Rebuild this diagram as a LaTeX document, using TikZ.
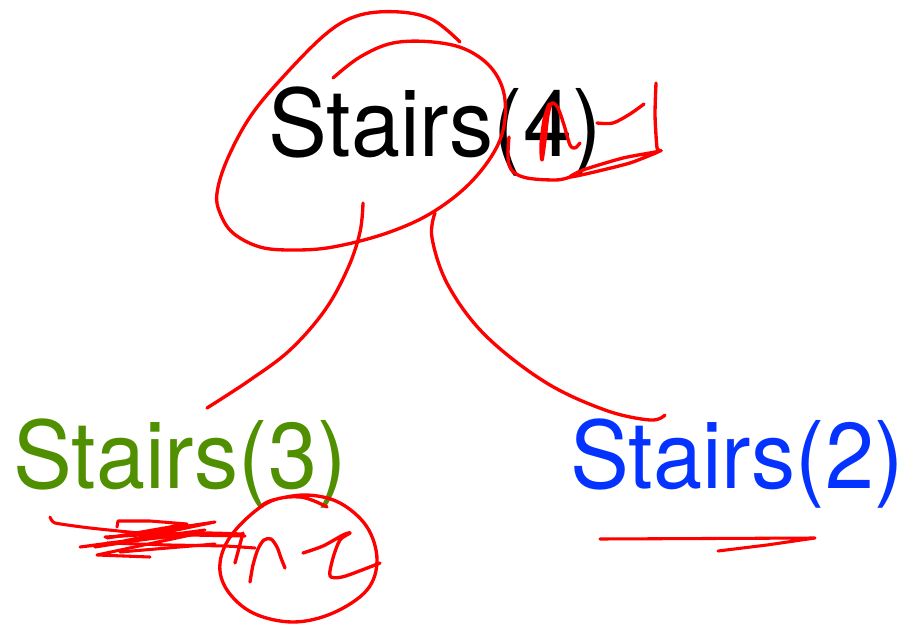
\documentclass[tikz,border=0pt]{standalone}
\usepackage{fontspec}
\setmainfont{TeX Gyre Heros}
\definecolor{inkred}{HTML}{FF0000}
\definecolor{leafgreen}{HTML}{4F8F00}
\definecolor{brightblue}{HTML}{0433FF}
\tikzset{
  callname/.style={inner sep=0pt, anchor=base west,
    font=\fontsize{70}{80}\selectfont},
  pen/.style={draw=inkred, line width=2.5pt, line cap=round, line join=round},
  thinpen/.style={pen, line width=2.3pt},
}
\newcommand{\narrow}[1]{\scalebox{0.945}[1]{#1}}
\begin{document}
\begin{tikzpicture}[x=0.75pt, y=-0.75pt]
\useasboundingbox (0,0) rectangle (912,634);

% the three calls
\node[callname, text=black]      (top)   at (268,157) {\narrow{Stairs(4)}};
\node[callname, text=leafgreen]  (left)  at (13,488)  {\narrow{Stairs(3)}};
\node[callname, text=brightblue] (right) at (570,488) {\narrow{Stairs(2)}};

% loop around the top call
\draw[pen] plot[smooth, tension=0.6] coordinates {
  (460,42) (433,20) (400,12) (360,15) (327,33) (283,77) (250,117) (227,160)
  (217,193) (220,213) (233,233) (260,247) (293,250) (333,247) (387,233)
  (433,212) (473,180) (500,140) (505,100) (493,70) (467,50) (433,42)
  (393,43) (360,57) (333,78)};

% branches down to the two sub-calls
\coordinate (bl0) at (363,203);
\coordinate (bl1) at (207,408);
\draw[pen] plot[smooth, tension=0.6] coordinates {
  (bl0) (360,232) (348,268) (325,310) (290,350) (250,380) (bl1)};
\coordinate (br0) at (435,213);
\coordinate (br1) at (665,415);
\draw[pen] plot[smooth, tension=0.6] coordinates {
  (br0) (432,238) (448,285) (485,335) (545,382) (605,410) (650,420) (br1)};

% "n" written over the argument
\draw[pen] plot[smooth, tension=0.5] coordinates {
  (549,104) (544,120) (541,145) (542,160) (545,140) (548,115) (552,103)
  (558,108) (564,125) (570,145) (575,148) (580,143)};
% hook and box at the right of the top call
\draw[pen] plot[smooth, tension=0.5] coordinates {
  (597,123) (613,123) (630,114) (644,104)};
\draw[pen] plot[smooth, tension=0.4] coordinates {
  (656,83) (655,115) (657,148) (660,151) (623,158) (583,170) (570,177)
  (590,173) (630,163) (658,152)};
\draw[pen] plot[smooth, tension=0.6] coordinates {
  (509,137) (509,165) (523,177) (555,180) (570,177)};

% crossed-out marks under the left call
\draw[thinpen] plot[smooth, tension=0.3] coordinates {
  (50,517) (55,523) (90,528) (140,533) (190,535) (245,536)};
\draw[thinpen] plot[tension=0.3] coordinates {
  (117,527) (118,521) (150,521) (187,524) (107,538) (215,522) (95,547)
  (205,530) (80,547) (200,533) (97,555) (150,557)};
\draw[thinpen] plot[smooth, tension=0.3] coordinates {
  (105,537) (160,534) (210,533) (243,534)};
\draw[thinpen] plot[smooth, tension=0.3] coordinates {
  (107,543) (170,545) (225,546) (255,548)};
\draw[thinpen] (120,552) -- (215,544);

% circled "n-2"
\draw[pen] plot[smooth, tension=0.6] coordinates {
  (327,507) (300,497) (267,503) (233,533) (220,563) (227,590) (253,613)
  (293,622) (333,613) (367,590) (377,560) (367,527) (340,503) (307,495)
  (273,500) (260,507)};
\draw[pen] (243,533) -- (235,563);
\draw[pen] plot[smooth, tension=0.5] coordinates {
  (250,582) (253,565) (258,549) (264,540) (271,539) (277,547) (281,558)
  (285,568)};
\draw[pen] plot[smooth, tension=0.5] coordinates {
  (303,553) (323,546) (343,535) (350,533) (340,540) (333,558) (330,576)
  (342,577) (362,570) (380,563)};

% underline below the right call
\draw[thinpen] plot[tension=0.3] coordinates {
  (600,539) (815,538) (767,545) (718,551)};
\end{tikzpicture}
\end{document}
